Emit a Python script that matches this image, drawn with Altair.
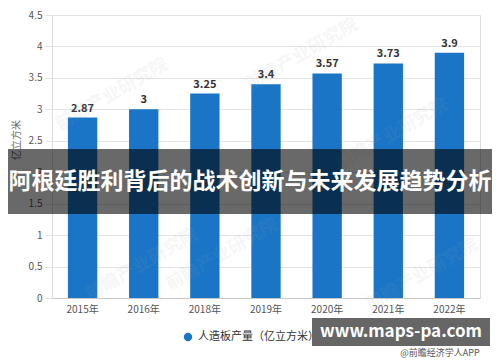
import altair as alt
import pandas as pd

years = ["2015年", "2016年", "2018年", "2019年", "2020年", "2021年", "2022年"]
values = [2.87, 3, 3.25, 3.4, 3.57, 3.73, 3.9]
labels = ["2.87", "3", "3.25", "3.4", "3.57", "3.73", "3.9"]
y_ticks = [0, 0.5, 1, 1.5, 2, 2.5, 3, 3.5, 4, 4.5]
legend_label = "人造板产量（亿立方米）"
y_title = "亿立方米"
banner_text = "阿根廷胜利背后的战术创新与未来发展趋势分析"
site_text = "www.maps-pa.com"
source_text = "@前瞻经济学人APP"
wm_text = "前瞻产业研究院"

df = pd.DataFrame({"year": years, "value": values, "label": labels})

W, H = 428, 283
FONT = "Noto Sans CJK SC"
OY = -3  # overlay y shift relative to plot origin

xscale = alt.Scale(paddingInner=0.52, paddingOuter=0.26)
yscale = alt.Scale(domain=[0, 4.5], nice=False)

x = alt.X("year:N", sort=years, title=None, scale=xscale,
          axis=alt.Axis(labelAngle=0, labelFontSize=10, labelColor="#555", labelFont=FONT,
                        ticks=False, domainColor="#c8c8c8", labelPadding=6, grid=False))
y = alt.Y("value:Q", title=None, scale=yscale,
          axis=alt.Axis(values=y_ticks, format="~g", labelOverlap=False, labelFontSize=10,
                        labelColor="#555", labelFont=FONT, tickCount=10,
                        domain=False, tickColor="#e3e3e3", tickSize=7, labelPadding=3,
                        gridColor="#e3e3e3"))

one = pd.DataFrame({"a": [0]})

wm_pos = pd.DataFrame({"px": [60, 250, 90, 340, 170, 370], "py": [80, 40, 250, 120, 240, 260]})
watermarks = alt.Chart(wm_pos).mark_text(angle=330, fontSize=18, color="#9aa7b0", opacity=0.09,
                                         font=FONT, fontWeight="bold").encode(
    x=alt.X("px:Q", scale=None, axis=None), y=alt.Y("py:Q", scale=None, axis=None),
    text=alt.value(wm_text))

bars = alt.Chart(df).mark_bar(color="#1a75c6").encode(x=x, y=y)
texts = alt.Chart(df).mark_text(baseline="bottom", dy=-4, fontSize=11, fontWeight="bold",
                                color="#333", font=FONT).encode(x=x, y=y, text="label:N")

ytitle = alt.Chart(one).mark_text(angle=270, fontSize=10, color="#666", font=FONT).encode(
    x=alt.value(-35), y=alt.value(128 + OY), text=alt.value(y_title))

legend_dot = alt.Chart(one).mark_point(filled=True, size=70, color="#1a75c6", opacity=1).encode(
    x=alt.value(136), y=alt.value(325 + OY))
legend_txt = alt.Chart(one).mark_text(align="left", fontSize=11, color="#333", font=FONT).encode(
    x=alt.value(146), y=alt.value(325 + OY), text=alt.value(legend_label))

banner = alt.Chart(one).mark_rect(color="black", opacity=0.59).encode(
    x=alt.value(-44), x2=alt.value(440), y=alt.value(137 + OY), y2=alt.value(202 + OY))
banner_t = alt.Chart(one).mark_text(fontSize=23, fontWeight="bold", color="white", font=FONT).encode(
    x=alt.value(198), y=alt.value(170 + OY), text=alt.value(banner_text))

src = alt.Chart(one).mark_text(fontSize=9, color="#555", font=FONT).encode(
    x=alt.value(388), y=alt.value(341 + OY), text=alt.value(source_text))
site_box = alt.Chart(one).mark_rect(color="black", opacity=0.6).encode(
    x=alt.value(260), x2=alt.value(438), y=alt.value(306 + OY), y2=alt.value(334 + OY))
site_t = alt.Chart(one).mark_text(fontSize=17, fontWeight="bold", color="white", font=FONT).encode(
    x=alt.value(349), y=alt.value(320 + OY), text=alt.value(site_text))

chart = alt.layer(bars, texts, watermarks, ytitle, legend_dot, legend_txt, banner, banner_t,
                  src, site_box, site_t).properties(
    width=W, height=H,
    autosize=alt.AutoSizeParams(type="none"),
    padding={"left": 44, "top": 7, "right": 12, "bottom": 62},
).configure_view(stroke=None).configure(background="white")

chart.save("out.html", embed_options={"renderer": "svg", "actions": False})
